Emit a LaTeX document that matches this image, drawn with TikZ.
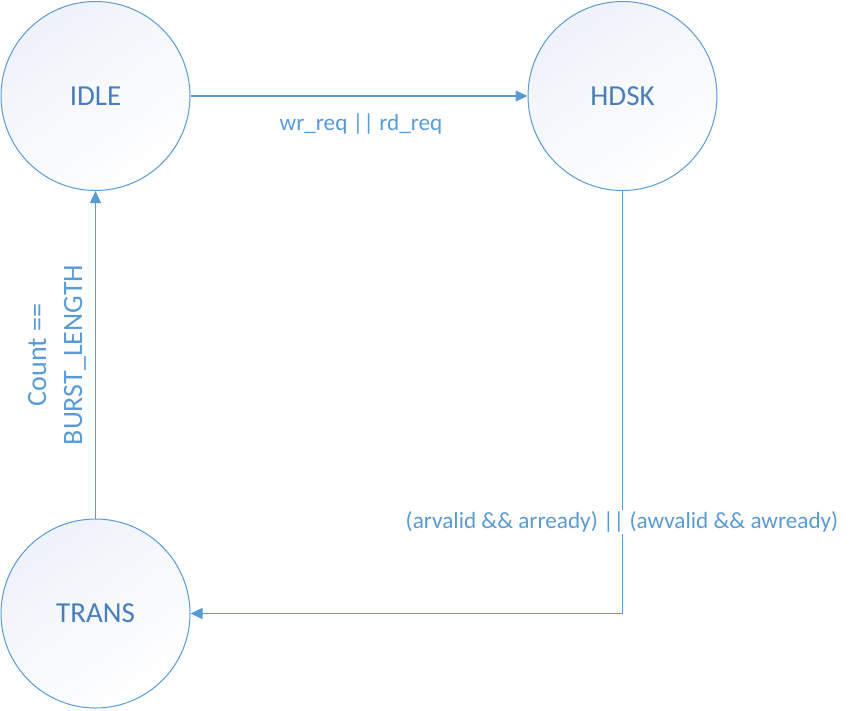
\documentclass[tikz,border=0pt]{standalone}
\usepackage{fontspec}
\setmainfont{Carlito}
\usetikzlibrary{arrows.meta}
\definecolor{lineblue}{HTML}{5B9BD5}
\definecolor{textblue}{HTML}{4A7EBB}
\definecolor{fillA}{HTML}{EEF2F9}
\tikzset{
  state/.style={circle, draw=lineblue, line width=1pt, minimum size=189pt, inner sep=0pt,
    shading=axis, top color=fillA, bottom color=white, shading angle=35,
    text=textblue, font=\fontsize{29}{35}\selectfont},
  conn/.style={draw=lineblue, line width=1.3pt, -{Triangle[length=12pt,width=11pt]}},
  lbl/.style={text=lineblue, font=\fontsize{23.2}{28}\selectfont, inner sep=2pt},
  vlbl/.style={text=lineblue, font=\fontsize{28}{36}\selectfont, align=center, rotate=90, inner sep=0pt}
}
\begin{document}
\begin{tikzpicture}[x=1pt,y=-1pt]
\useasboundingbox (0,0) rectangle (853,710);
\node[state] (idle) at (95.5,96) {IDLE};
\node[state] (hdsk) at (622.5,96) {HDSK};
\node[state] (trans) at (95.5,613.5) {TRANS};
\coordinate (corner) at (hdsk.south |- trans.east);
\draw[conn] (idle.east) -- (hdsk.west);
\node[lbl] (l1) at (361,124) {wr\_req || rd\_req};
\draw[conn] (hdsk.south) -- (corner) -- (trans.east);
\node[lbl, fill=white] (l2) at (622,522) {(arvalid \&\& arready) || (awvalid \&\& awready)};
\draw[conn] (trans.north) -- (idle.south);
\node[vlbl] (l3) at (57,355) {Count ==\\BURST\_LENGTH};
\end{tikzpicture}
\end{document}
